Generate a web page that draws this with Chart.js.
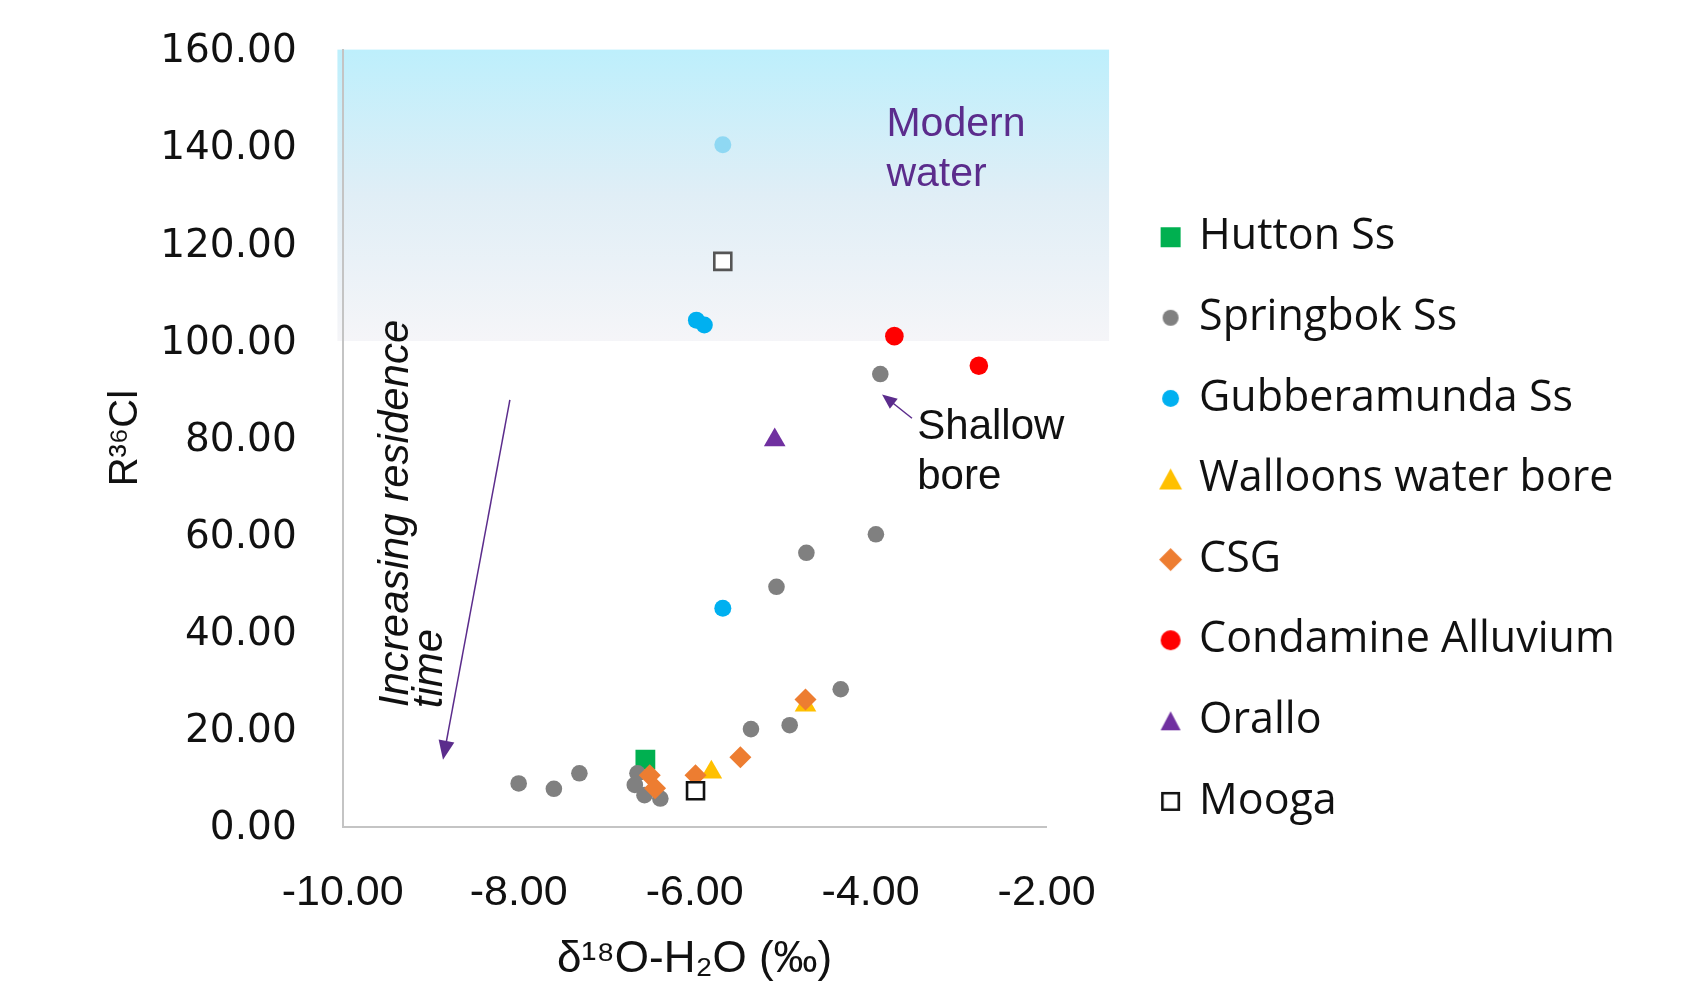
<!DOCTYPE html>
<html>
<head>
<meta charset="utf-8">
<script src="https://cdn.jsdelivr.net/npm/chart.js@4.4.1/dist/chart.umd.min.js"></script>
<style>
  html, body { margin: 0; padding: 0; background: #fff; }
  #wrap { width: 1690px; height: 989px; position: relative; }
</style>
</head>
<body>
<div id="wrap"><canvas id="chart"></canvas></div>
<script>
// values: x = d18O (permil), y = R36Cl
const seriesNames = ["Hutton Ss", "Springbok Ss", "Gubberamunda Ss", "Walloons water bore",
                     "CSG", "Condamine Alluvium", "Orallo", "Mooga"];

const huttonX = [-6.56];
const huttonY = [13.8];

const springbokX = [-8.00, -7.60, -7.31, -6.65, -6.68, -6.57, -6.39, -5.36, -4.92, -4.34, -5.07, -4.73, -3.94, -3.89];
const springbokY = [8.9, 7.8, 11.0, 11.0, 8.6, 6.5, 5.8, 20.1, 20.9, 28.3, 49.4, 56.4, 60.2, 93.2];

const gubberX = [-5.98, -5.89, -5.68, -5.68];
const gubberY = [104.3, 103.3, 45.0, 140.4];

const walloonsX = [-5.81, -4.74];
const walloonsY = [11.2, 25.0];

const csgX = [-6.51, -6.45, -5.99, -5.48, -4.74];
const csgY = [10.6, 7.9, 10.6, 14.3, 26.2];

const condamineX = [-3.73, -2.77];
const condamineY = [101.0, 94.9];

const oralloX = [-5.09];
const oralloY = [79.6];

const moogaX = [-5.99, -5.68];
const moogaY = [7.4, 116.4];

const xTickValues = [-10, -8, -6, -4, -2];
const yTickValues = [0, 20, 40, 60, 80, 100, 120, 140, 160];

// "modern water" band
const modernBand = { xFrom: -10.06, xTo: -1.29, yFrom: 100, yTo: 160 };

const pts = (xs, ys) => xs.map((x, i) => ({ x: x, y: ys[i] }));

const purple = "#5b2c8c";
const textFont = "Liberation Sans, Arial, sans-serif";
const legendFont = "Open Sans, sans-serif";
const legendSize = 43;
const legendPad = 37.6;

// legend box width, so the legend can start where the reference has it
const mctx = document.createElement("canvas").getContext("2d");
mctx.font = legendSize + "px " + legendFont;
const longest = Math.max(...seriesNames.map(n => mctx.measureText(n).width));
const legendW = legendPad + 14 + legendSize / 2 + longest + 10;
const legendLeft = 1126;
const plotRight = 1046.6;

// legend markers drawn at the sizes of the reference
function icon(shape, w, h, fill, stroke, lw) {
  const c = document.createElement("canvas");
  c.width = Math.ceil(w + 2); c.height = Math.ceil(h + 2);
  const g = c.getContext("2d");
  const cx = c.width / 2, cy = c.height / 2;
  g.fillStyle = fill;
  g.beginPath();
  if (shape === "square") g.rect(cx - w / 2 + (lw || 0) / 2, cy - h / 2 + (lw || 0) / 2, w - (lw || 0), h - (lw || 0));
  if (shape === "circle") g.arc(cx, cy, w / 2, 0, Math.PI * 2);
  if (shape === "triangle") { g.moveTo(cx, cy - h / 2); g.lineTo(cx + w / 2, cy + h / 2); g.lineTo(cx - w / 2, cy + h / 2); g.closePath(); }
  if (shape === "diamond") { g.moveTo(cx, cy - h / 2); g.lineTo(cx + w / 2, cy); g.lineTo(cx, cy + h / 2); g.lineTo(cx - w / 2, cy); g.closePath(); }
  g.fill();
  if (stroke) { g.strokeStyle = stroke; g.lineWidth = lw; g.stroke(); }
  return c;
}
const legendIcons = [
  icon("square", 20, 20, "#00b050"),
  icon("circle", 16, 16, "#808080"),
  icon("circle", 17, 17, "#00b0f0"),
  icon("triangle", 23, 21, "#ffc000"),
  icon("diamond", 23, 23, "#ed7d31"),
  icon("circle", 20, 20, "#ff0000"),
  icon("triangle", 20, 19, "#7030a0"),
  icon("square", 19, 19, "#ffffff", "#111111", 2.6)
];

const shadePlugin = {
  id: "shade",
  beforeDraw(chart) {
    const { ctx, scales: { x, y } } = chart;
    const x0 = x.getPixelForValue(modernBand.xFrom), x1 = x.getPixelForValue(modernBand.xTo);
    const y0 = y.getPixelForValue(modernBand.yTo), y1 = y.getPixelForValue(modernBand.yFrom);
    const g = ctx.createLinearGradient(0, y0, 0, y1);
    g.addColorStop(0, "#bdeffc");
    g.addColorStop(0.5, "#e0eef6");
    g.addColorStop(1, "#f5f5f8");
    ctx.save();
    ctx.fillStyle = g;
    ctx.fillRect(x0, y0, x1 - x0, y1 - y0);
    ctx.restore();
  }
};

function arrow(ctx, x1, y1, x2, y2, head, width) {
  const a = Math.atan2(y2 - y1, x2 - x1);
  const c = Math.cos(a), s = Math.sin(a);
  ctx.lineWidth = width;
  ctx.beginPath();
  ctx.moveTo(x1, y1);
  ctx.lineTo(x2 - c * head * 0.7, y2 - s * head * 0.7);
  ctx.stroke();
  ctx.beginPath();
  ctx.moveTo(x2, y2);
  ctx.lineTo(x2 - c * head + s * head * 0.42, y2 - s * head - c * head * 0.42);
  ctx.lineTo(x2 - c * head - s * head * 0.42, y2 - s * head + c * head * 0.42);
  ctx.closePath();
  ctx.fill();
}

const notesPlugin = {
  id: "notes",
  afterDatasetsDraw(chart) {
    const { ctx, scales: { x, y } } = chart;
    const px = v => x.getPixelForValue(v), py = v => y.getPixelForValue(v);
    ctx.save();
    ctx.textBaseline = "middle";
    ctx.textAlign = "left";

    ctx.fillStyle = purple;
    ctx.font = "41px " + textFont;
    ctx.fillText("Modern", px(-3.82), py(144.6));
    ctx.fillText("water", px(-3.82), py(134.3));

    ctx.fillStyle = "#111";
    ctx.font = "42px " + textFont;
    ctx.fillText("Shallow", px(-3.47), py(82.2));
    ctx.fillText("bore", px(-3.47), py(71.9));

    ctx.font = "italic 42px " + textFont;
    [["Increasing residence", -9.39, 24.6], ["time", -9.0, 24.4]].forEach(([t, vx, vy]) => {
      ctx.save();
      ctx.translate(px(vx), py(vy));
      ctx.rotate(-Math.PI / 2);
      ctx.fillText(t, 0, 0);
      ctx.restore();
    });

    ctx.strokeStyle = purple;
    ctx.fillStyle = purple;
    arrow(ctx, px(-8.10), py(87.9), px(-8.86), py(13.8), 19, 1.5);
    arrow(ctx, px(-3.53), py(84.1), px(-3.87), py(89.0), 15, 1.5);
    ctx.restore();
  }
};

Chart.defaults.font.family = textFont;
Chart.defaults.color = "#1a1a1a";

const mk = (i, data, style) => Object.assign({
  label: seriesNames[i],
  data: data,
  order: 10 - i,          // later series on top, as in the source
  showLine: false,
  xAxisID: "x",
  yAxisID: "y"
}, style);

new Chart(document.getElementById("chart"), {
  type: "scatter",
  data: {
    datasets: [
      mk(0, pts(huttonX, huttonY), { pointStyle: "rect", pointRadius: 14, backgroundColor: "#00b050", borderWidth: 0 }),
      mk(1, pts(springbokX, springbokY), { pointStyle: "circle", pointRadius: 8.3, backgroundColor: "#808080", borderWidth: 0 }),
      mk(2, pts(gubberX, gubberY), { pointStyle: "circle", pointRadius: 8.5,
        backgroundColor: ["#00b0f0", "#00b0f0", "#00b0f0", "#8fd8f3"], borderWidth: 0 }),
      mk(3, pts(walloonsX, walloonsY), { pointStyle: "triangle", pointRadius: 12.5, backgroundColor: "#ffc000", borderWidth: 0 }),
      mk(4, pts(csgX, csgY), { pointStyle: "rectRot", pointRadius: 11, backgroundColor: "#ed7d31", borderWidth: 0 }),
      mk(5, pts(condamineX, condamineY), { pointStyle: "circle", pointRadius: 9.3, backgroundColor: "#ff0000", borderWidth: 0 }),
      mk(6, pts(oralloX, oralloY), { pointStyle: "triangle", pointRadius: 12.5, backgroundColor: "#7030a0", borderWidth: 0 }),
      mk(7, pts(moogaX, moogaY), { pointStyle: "rect", pointRadius: 12, backgroundColor: "#ffffff",
        borderColor: ["#111111", "#555555"], borderWidth: 2.6 })
    ]
  },
  options: {
    responsive: true,
    maintainAspectRatio: false,
    animation: false,
    layout: { padding: { top: 49.6, right: 1690 - legendLeft - legendW, bottom: 0, left: 0 } },
    plugins: {
      tooltip: { enabled: false },
      legend: {
        position: "right",
        maxWidth: legendW + 20,
        labels: {
          usePointStyle: true,
          boxWidth: 14,
          boxHeight: 14,
          padding: legendPad,
          color: "#111",
          font: { family: legendFont, size: legendSize },
          generateLabels: chart => {
            const items = Chart.defaults.plugins.legend.labels.generateLabels(chart);
            items.forEach(it => { it.pointStyle = legendIcons[it.datasetIndex]; });
            return items;
          },
          sort: (a, b) => a.datasetIndex - b.datasetIndex
        }
      }
    },
    scales: {
      x: {
        type: "linear",
        min: -10,
        max: -2,
        afterBuildTicks: s => { s.ticks = xTickValues.map(v => ({ value: v })); },
        afterFit: s => { s.height = 989 - 826.7; },
        grid: { display: false, drawTicks: true, tickLength: 8 },
        border: { display: true, color: "#c4c4c4", width: 2 },
        ticks: {
          padding: 33,
          color: "#111",
          font: { family: textFont, size: 43 },
          callback: v => v.toFixed(2)
        },
        title: {
          display: true,
          text: "\u03b4\u00b9\u2078O-H\u2082O (\u2030)",
          color: "#111",
          font: { family: textFont, size: 44 },
          padding: { top: 0, bottom: 2.4 }
        }
      },
      y: {
        type: "linear",
        min: 0,
        max: 160,
        afterBuildTicks: s => { s.ticks = yTickValues.map(v => ({ value: v })); },
        afterFit: s => { s.width = 342.7; },
        grid: { display: false, drawTicks: true, tickLength: 46 },
        border: { display: true, color: "#c4c4c4", width: 2 },
        ticks: {
          padding: 0,
          labelOffset: 2.5,
          color: "#111",
          font: { family: "DejaVu Sans, Verdana, sans-serif", size: 39 },
          callback: v => v.toFixed(2)
        },
        title: {
          display: true,
          text: "R\u00b3\u2076Cl",
          color: "#111",
          font: { family: textFont, size: 40 },
          padding: { top: 102, bottom: 0 }
        }
      },
      gap: {
        type: "linear",
        position: "right",
        min: 0,
        max: 1,
        grid: { display: false, drawTicks: false },
        border: { display: false },
        ticks: { display: false },
        afterFit: s => { s.width = legendLeft - plotRight; }
      }
    }
  },
  plugins: [shadePlugin, notesPlugin]
});
</script>
</body>
</html>
